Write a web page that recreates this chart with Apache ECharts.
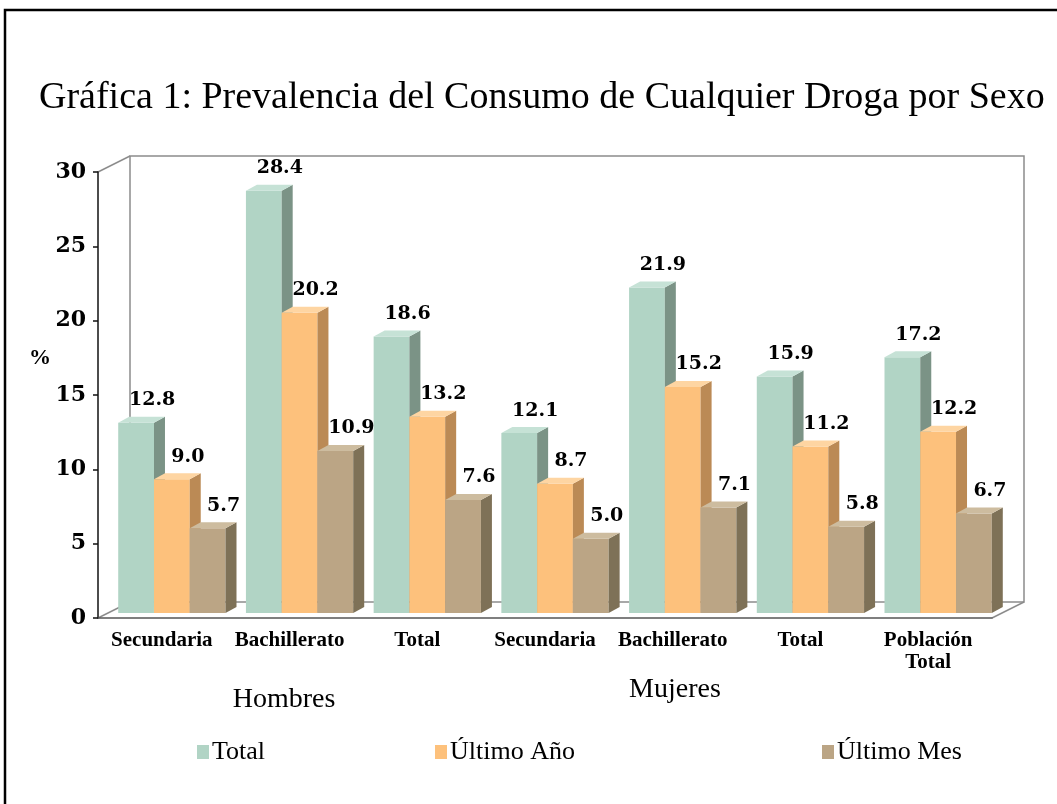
<!DOCTYPE html>
<html>
<head>
<meta charset="utf-8">
<script src="https://cdn.jsdelivr.net/npm/echarts@6/dist/echarts.min.js"></script>
<style>
  html, body { margin: 0; padding: 0; background: #fff; }
  #chart { width: 1057px; height: 804px; }
</style>
</head>
<body>
<div id="chart"></div>
<script>
// datos de la gráfica
var categories = ['Secundaria', 'Bachillerato', 'Total', 'Secundaria', 'Bachillerato', 'Total', 'Población\nTotal'];
var totalData = [12.8, 28.4, 18.6, 12.1, 21.9, 15.9, 17.2];
var anioData = [9.0, 20.2, 13.2, 8.7, 15.2, 11.2, 12.2];
var mesData = [5.7, 10.9, 7.6, 5.0, 7.1, 5.8, 6.7];
var yTicks = [0, 5, 10, 15, 20, 25, 30];

// layout
var GL = 98, GT = 172, GR = 992, GB = 618;
var DEPTH_X = 32, DEPTH_Y = 16;   // profundidad del muro de fondo
var BAR_SX = 10, BAR_SY = 5;      // desplazamiento de las barras
var SIDE_X = 11, SIDE_Y = 6;      // grosor de las barras

var colors = {
    total: { front: '#b1d4c5', side: '#7b9386', top: '#c6e2d6' },
    anio:  { front: '#fdc17c', side: '#bb8a55', top: '#fed5a2' },
    mes:   { front: '#bba585', side: '#7e7157', top: '#cdbc9f' }
};

function toPairs(arr) {
    return arr.map(function (v, i) { return [i, v]; });
}

function bar3D(idx, c) {
    return function (params, api) {
        var ci = api.value(0), v = api.value(1);
        var base = api.coord([ci, 0]);
        var top = api.coord([ci, v]);
        var catW = api.size([1, 0])[0];
        var bw = catW * 0.28;
        var x0 = base[0] + (idx - 1.5) * bw + BAR_SX;
        var x1 = x0 + bw;
        var yb = base[1] - BAR_SY;
        var yt = top[1] - BAR_SY;
        return {
            type: 'group',
            children: [
                { type: 'rect', shape: { x: x0, y: yt, width: bw, height: yb - yt }, style: { fill: c.front } },
                { type: 'polygon', shape: { points: [[x1, yt], [x1 + SIDE_X, yt - SIDE_Y], [x1 + SIDE_X, yb - SIDE_Y], [x1, yb]] }, style: { fill: c.side } },
                { type: 'polygon', shape: { points: [[x0, yt], [x0 + SIDE_X, yt - SIDE_Y], [x1 + SIDE_X, yt - SIDE_Y], [x1, yt]] }, style: { fill: c.top } },
                { type: 'text', z2: 10, style: {
                    x: (x0 + x1) / 2 + 16, y: yt - 13,
                    text: v.toFixed(1), align: 'center', verticalAlign: 'bottom',
                    font: 'bold 19px "DejaVu Serif"', fill: '#000'
                } }
            ]
        };
    };
}

var myChart = echarts.init(document.getElementById('chart'));

var wallColor = '#8c8c8c';

myChart.setOption({
    animation: false,
    backgroundColor: '#fff',
    title: {
        text: 'Gráfica 1: Prevalencia del Consumo de Cualquier Droga por Sexo',
        left: 34,
        top: 74,
        textStyle: { fontFamily: 'Liberation Serif', fontSize: 38, fontWeight: 'normal', color: '#000' }
    },
    legend: [
        { data: ['Total'], left: 192, top: 734 },
        { data: ['Último Año'], left: 430, top: 734 },
        { data: ['Último Mes'], left: 817, top: 734 }
    ].map(function (l) {
        l.icon = 'rect';
        l.itemWidth = 12;
        l.itemHeight = 14;
        l.textStyle = { fontFamily: 'Liberation Serif', fontSize: 26, color: '#000', padding: [0, 0, 0, -2] };
        return l;
    }),
    grid: { left: GL, top: GT, right: 1057 - GR, bottom: 804 - GB },
    xAxis: {
        type: 'category',
        data: categories,
        boundaryGap: true,
        axisLine: { lineStyle: { color: '#555', width: 1.5 } },
        axisTick: { length: 6, lineStyle: { color: '#222', width: 1.5 } },
        axisLabel: {
            interval: 0, margin: 12, lineHeight: 22,
            fontFamily: 'Liberation Serif', fontWeight: 'bold', fontSize: 21, color: '#000'
        },
        splitLine: { show: false }
    },
    yAxis: {
        type: 'value',
        min: yTicks[0],
        max: yTicks[yTicks.length - 1],
        interval: 5,
        axisLine: { show: true, lineStyle: { color: '#111', width: 1.5 } },
        axisTick: { show: true, length: 5, lineStyle: { color: '#111', width: 1.5 } },
        axisLabel: { margin: 12, fontFamily: 'DejaVu Serif', fontWeight: 'bold', fontSize: 22, color: '#000' },
        splitLine: { show: false }
    },
    graphic: [
        // marco exterior
        { type: 'rect', shape: { x: 5, y: 10, width: 1200, height: 900 }, style: { fill: 'none', stroke: '#000', lineWidth: 2.5 }, z: -10 },
        // muro de fondo
        { type: 'rect', shape: { x: GL + DEPTH_X, y: GT - DEPTH_Y, width: GR - GL, height: GB - GT }, style: { fill: 'none', stroke: wallColor, lineWidth: 1.5 }, z: -5 },
        { type: 'line', shape: { x1: GL, y1: GT, x2: GL + DEPTH_X, y2: GT - DEPTH_Y }, style: { stroke: wallColor, lineWidth: 1.5 }, z: -5 },
        { type: 'line', shape: { x1: GL, y1: GB, x2: GL + DEPTH_X, y2: GB - DEPTH_Y }, style: { stroke: wallColor, lineWidth: 1.5 }, z: -5 },
        { type: 'line', shape: { x1: GR, y1: GB, x2: GR + DEPTH_X, y2: GB - DEPTH_Y }, style: { stroke: wallColor, lineWidth: 1.5 }, z: -5 },
        // textos
        { type: 'text', style: { x: 40, y: 358, text: '%', align: 'center', verticalAlign: 'middle', font: 'bold 22px "Liberation Serif"', fill: '#000' } },
        { type: 'text', style: { x: 284, y: 700, text: 'Hombres', align: 'center', verticalAlign: 'middle', font: '28px "Liberation Serif"', fill: '#000' } },
        { type: 'text', style: { x: 675, y: 690, text: 'Mujeres', align: 'center', verticalAlign: 'middle', font: '28px "Liberation Serif"', fill: '#000' } }
    ],
    series: [
        {
            name: 'Total', type: 'custom', renderItem: bar3D(0, colors.total),
            itemStyle: { color: colors.total.front },
            encode: { x: 0, y: 1 }, data: toPairs(totalData)
        },
        {
            name: 'Último Año', type: 'custom', renderItem: bar3D(1, colors.anio),
            itemStyle: { color: colors.anio.front },
            encode: { x: 0, y: 1 }, data: toPairs(anioData)
        },
        {
            name: 'Último Mes', type: 'custom', renderItem: bar3D(2, colors.mes),
            itemStyle: { color: colors.mes.front },
            encode: { x: 0, y: 1 }, data: toPairs(mesData)
        }
    ]
});

window.onresize = function () {
    myChart.resize();
};
</script>
</body>
</html>
